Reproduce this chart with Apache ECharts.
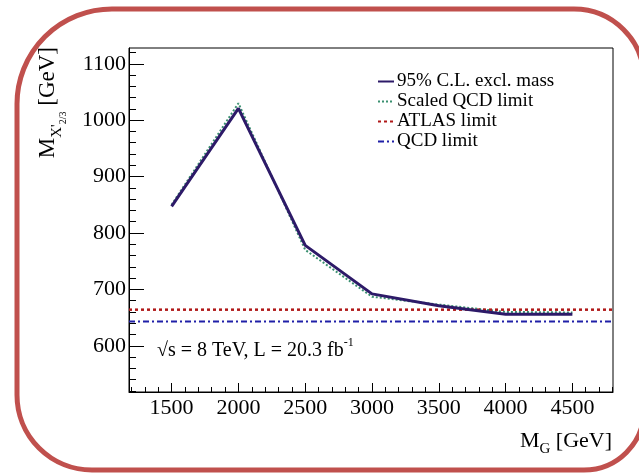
<!DOCTYPE html>
<html>
<head>
<meta charset="utf-8">
<script src="https://cdn.jsdelivr.net/npm/echarts@6/dist/echarts.min.js"></script>
<style>
  html, body { margin: 0; padding: 0; background: #fff; overflow: hidden; }
  #chart { width: 639px; height: 473px; }
</style>
</head>
<body>
<div id="chart"></div>
<script>
(function() {
  'use strict';

  // data
  var massG = [1500, 2000, 2500, 3000, 3500, 4000, 4500];
  var exclMass = [847, 1021, 778, 692, 671, 656, 656];
  var scaledQcd = [850, 1030, 770, 687, 673, 660, 659];
  var atlasLimit = 664;
  var qcdLimit = 643;

  var xMin = 1181, xMax = 4804;
  var yMin = 518, yMax = 1128;
  var xMajor = [1500, 2000, 2500, 3000, 3500, 4000, 4500];
  var yMajor = [600, 700, 800, 900, 1000, 1100];
  var xMinor = [1200, 1300, 1400, 1600, 1700, 1800, 1900, 2100, 2200, 2300, 2400, 2600, 2700, 2800, 2900,
                3100, 3200, 3300, 3400, 3600, 3700, 3800, 3900, 4100, 4200, 4300, 4400, 4600, 4700, 4800];
  var yMinor = [520, 540, 560, 580, 620, 640, 660, 680, 720, 740, 760, 780, 820, 840, 860, 880,
                920, 940, 960, 980, 1020, 1040, 1060, 1080, 1120];

  var FONT = '"Liberation Serif", "DejaVu Serif", serif';

  function pairs(xs, ys) {
    return xs.map(function(x, i) { return [x, ys[i]]; });
  }

  function plain(v) { return String(v); }

  var chart = echarts.init(document.getElementById('chart'), null, { renderer: 'canvas' });

  chart.setOption({
    animation: false,
    backgroundColor: '#fff',
    grid: { left: 129, right: 26, top: 48, bottom: 81, show: true, borderColor: '#000', borderWidth: 1, backgroundColor: 'transparent' },
    legend: {
      orient: 'vertical',
      left: 372,
      top: 67,
      itemWidth: 16,
      itemHeight: 10,
      itemGap: 1,
      itemStyle: { opacity: 0 },
      data: ['95% C.L. excl. mass', 'Scaled QCD limit', 'ATLAS limit', 'QCD limit'],
      textStyle: { fontFamily: FONT, fontSize: 19, color: '#000', padding: [0, 0, 0, -2] }
    },
    xAxis: [
      {
        type: 'value', min: xMin, max: xMax,
        axisLine: { lineStyle: { color: '#000', width: 1 } },
        axisTick: { inside: true, length: 9, customValues: xMajor, lineStyle: { color: '#000' } },
        axisLabel: { customValues: xMajor, formatter: plain, margin: 5, fontFamily: FONT, fontSize: 22, color: '#000' },
        splitLine: { show: false }
      },
      {
        type: 'value', min: xMin, max: xMax, position: 'bottom',
        axisLine: { show: false },
        axisTick: { inside: true, length: 5, customValues: xMinor, lineStyle: { color: '#000' } },
        axisLabel: { show: false },
        splitLine: { show: false }
      }
    ],
    yAxis: [
      {
        type: 'value', min: yMin, max: yMax,
        axisLine: { show: true, lineStyle: { color: '#000', width: 1 } },
        axisTick: { show: true, inside: true, length: 15, customValues: yMajor, lineStyle: { color: '#000' } },
        axisLabel: { customValues: yMajor, formatter: plain, margin: 3, fontFamily: FONT, fontSize: 22, color: '#000' },
        splitLine: { show: false }
      },
      {
        type: 'value', min: yMin, max: yMax, position: 'left',
        axisLine: { show: false },
        axisTick: { show: true, inside: true, length: 7, customValues: yMinor, lineStyle: { color: '#000' } },
        axisLabel: { show: false },
        splitLine: { show: false }
      }
    ],
    series: [
      {
        name: 'Scaled QCD limit', type: 'line', data: pairs(massG, scaledQcd),
        symbol: 'none', z: 2,
        itemStyle: { color: '#3a9070' },
        lineStyle: { color: '#3a9070', width: 2, type: [2, 2] }
      },
      {
        name: '95% C.L. excl. mass', type: 'line', data: pairs(massG, exclMass),
        symbol: 'none', z: 3,
        itemStyle: { color: '#2d1a68' },
        lineStyle: { color: '#2d1a68', width: 3 }
      },
      {
        name: 'ATLAS limit', type: 'line', data: [[xMin, atlasLimit], [xMax, atlasLimit]],
        symbol: 'none', z: 2,
        itemStyle: { color: '#b01818' },
        lineStyle: { color: '#b01818', width: 2.5, type: [3, 3] }
      },
      {
        name: 'QCD limit', type: 'line', data: [[xMin, qcdLimit], [xMax, qcdLimit]],
        symbol: 'none', z: 2,
        itemStyle: { color: '#2020a8' },
        lineStyle: { color: '#2020a8', width: 2, type: [6, 3, 2, 3] }
      }
    ],
    graphic: [
      {
        type: 'rect', z: 100, silent: true,
        shape: { x: 17, y: 9, width: 627, height: 461, r: [95, 70, 60, 75] },
        style: { fill: 'none', stroke: '#c0504d', lineWidth: 5 }
      },
      {
        // y axis title
        type: 'text', x: 48, y: 47, rotation: Math.PI / 2,
        style: {
          text: '{m|M}{s|X\'}{ss|2/3}{m| [GeV]}',
          align: 'right', verticalAlign: 'middle',
          fill: '#000', fontFamily: FONT,
          rich: {
            m: { fontFamily: FONT, fontSize: 23, lineHeight: 23, verticalAlign: 'top' },
            s: { fontFamily: FONT, fontSize: 15, lineHeight: 15, padding: [13, 0, 0, 0], verticalAlign: 'top' },
            ss: { fontFamily: FONT, fontSize: 10, lineHeight: 10, padding: [22, 0, 0, 0], verticalAlign: 'top' }
          }
        }
      },
      {
        // x axis title
        type: 'text', x: 612, y: 430,
        style: {
          text: '{m|M}{s|G}{m| [GeV]}',
          align: 'right', verticalAlign: 'top',
          fill: '#000', fontFamily: FONT,
          rich: {
            m: { fontFamily: FONT, fontSize: 22, lineHeight: 22, verticalAlign: 'top' },
            s: { fontFamily: FONT, fontSize: 15, lineHeight: 15, padding: [12, 0, 0, 0], verticalAlign: 'top' }
          }
        }
      },
      {
        // energy / lumi label
        type: 'text', x: 157, y: 337,
        style: {
          text: '{m|\u221As = 8 TeV, L = 20.3 fb}{p|-1}',
          align: 'left', verticalAlign: 'top',
          fill: '#000', fontFamily: FONT,
          rich: {
            m: { fontFamily: FONT, fontSize: 20, lineHeight: 20, padding: [4, 0, 0, 0], verticalAlign: 'top' },
            p: { fontFamily: FONT, fontSize: 12, lineHeight: 12, verticalAlign: 'top' }
          }
        }
      }
    ]
  });
})();
</script>
</body>
</html>
